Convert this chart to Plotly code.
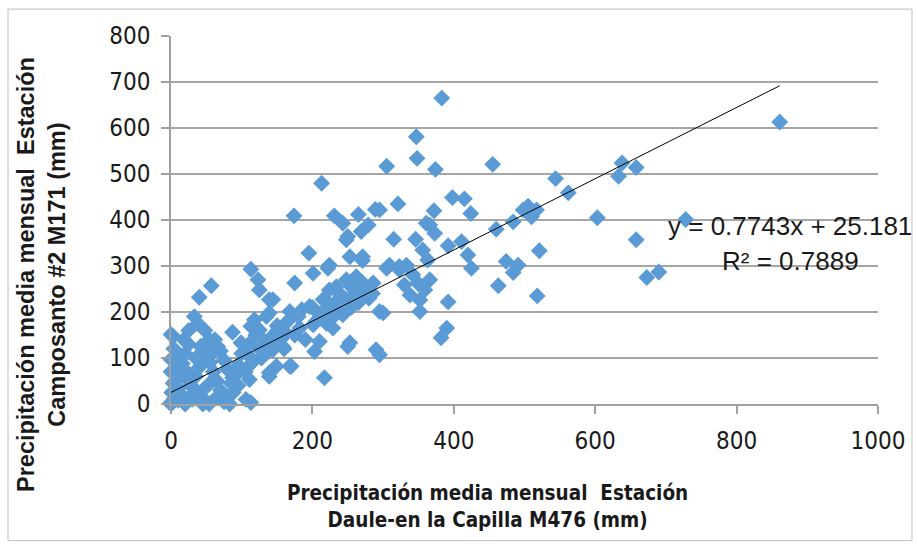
import plotly.graph_objects as go

# Observed pairs (Daule-en la Capilla M476, Camposanto #2 M171), mm
daule_x = [
    383, 347, 348, 305, 374, 455, 544, 562, 638, 633, 658, 603, 658, 673, 690, 728, 861,
    321, 295, 398, 415, 424, 372, 366, 373, 346, 315, 460, 484, 505, 517, 498, 510, 392,
    411, 420, 425, 521, 474, 491, 484, 463, 518, 392, 390, 382, 352, 300, 305, 323, 356, 295,
    333, 342, 349, 359, 366, 338, 352, 363, 330,
    213, 174, 231, 243, 265, 289, 279, 269, 250, 195, 253, 271, 361,
    271, 224, 201, 175, 309, 323, 286, 271, 238, 215, 196, 168, 243, 295, 229, 201, 182,
    163, 253, 210, 290, 248, 248, 262, 255, 234, 224,
    217, 250, 203, 168, 139, 144, 139, 158, 144,
    113, 123, 57, 40, 222, 125, 139, 33, 3, 54, 87, 99, 118, 113, 135, 151, 170, 139, 113,
    83, 54, 69,
    0, 0, 66, 125, 87, 45, 22, 0, 111, 135, 149, 111, 106, 78,
    0, 2, 5, 8, 10, 3, 12, 0, 15, 6, 20, 25, 18, 28, 35, 40, 45, 50, 55, 60, 65, 70, 30,
    40, 50, 20, 10, 35, 42, 48, 58, 62, 70, 75, 80, 85, 90, 95, 100, 105, 110, 120, 115,
    125, 130, 128, 140, 145, 150, 155, 160, 165, 175, 180, 185, 190, 200, 205, 215, 220,
    225, 230, 235, 240, 245, 255, 260, 265, 270, 275, 280, 285, 255, 235, 210,
    12, 22, 32, 45, 55, 65, 75, 88, 95, 8, 16, 4, 25, 38, 1, 6, 14, 30, 18, 26,
]
campo_y = [
    665, 581, 534, 517, 510, 521, 490, 459, 524, 495, 514, 405, 357, 275, 287, 401, 613,
    435, 422, 449, 446, 414, 420, 389, 371, 358, 358, 380, 396, 430, 422, 422, 407, 344,
    353, 324, 295, 333, 310, 302, 286, 257, 235, 222, 165, 144, 201, 198, 295, 299, 335, 107,
    302, 281, 263, 248, 270, 237, 226, 313, 259,
    480, 409, 409, 393, 412, 423, 389, 375, 364, 328, 320, 320, 393,
    312, 302, 284, 263, 302, 292, 263, 241, 241, 227, 212, 201, 194, 201, 165, 172, 165,
    154, 133, 136, 118, 357, 270, 277, 255, 255, 248,
    57, 125, 114, 82, 60, 227, 198, 125, 118,
    293, 270, 257, 232, 295, 248, 227, 190, 147, 140, 156, 133, 183, 169, 190, 161, 82, 68, 3,
    0, 0, 17,
    151, 97, 125, 161, 57, 0, 3, 3, 104, 111, 82, 53, 10, 17,
    0, 5, 12, 20, 35, 45, 60, 70, 80, 95, 110, 130, 140, 40, 60, 80, 100, 120, 90, 70, 50, 30, 20,
    10, 5, 0, 8, 100, 125, 160, 110, 140, 115, 95, 75, 45, 60, 85, 110, 70, 130, 150, 90,
    120, 140, 100, 130, 150, 170, 140, 120, 180, 150, 190, 205, 140, 210, 180, 200, 175,
    215, 190, 225, 200, 230, 230, 245, 220, 265, 250, 230, 240, 210, 205, 195,
    25, 55, 35, 30, 45, 15, 5, 25, 40, 65, 88, 120, 160, 175, 25, 50, 70, 10, 105, 65,
]

# Linear trendline parameters shown on the chart
trend_slope = 0.7743
trend_intercept = 25.181
trend_r2 = 0.7889

x_ticks = [0, 200, 400, 600, 800, 1000]
y_ticks = [0, 100, 200, 300, 400, 500, 600, 700, 800]

x_title = ["Precipitación media mensual  Estación", "Daule-en la Capilla M476 (mm)"]
y_title = ["Precipitación media mensual  Estación", "Camposanto #2 M171 (mm)"]

xmin, xmax = min(daule_x), max(daule_x)
trend_x = [xmin, xmax]
trend_y = [trend_slope * v + trend_intercept for v in trend_x]

fig = go.Figure()
fig.add_trace(go.Scatter(
    x=daule_x, y=campo_y, mode="markers",
    marker=dict(symbol="diamond", size=13, color="#5B9BD5", line=dict(width=0)),
    cliponaxis=False, showlegend=False, hoverinfo="x+y",
))
fig.add_trace(go.Scatter(
    x=trend_x, y=trend_y, mode="lines",
    line=dict(color="black", width=1), showlegend=False, hoverinfo="skip",
))

tick_font = dict(family="Liberation Sans Narrow, DejaVu Sans Condensed, Arial Narrow, sans-serif",
                 size=24, color="#1a1a1a")

fig.update_layout(
    width=918, height=546,
    margin=dict(l=171, r=40, t=36, b=142),
    paper_bgcolor="white", plot_bgcolor="white",
    xaxis=dict(range=[0, 1000], tickvals=x_ticks, showgrid=False, zeroline=False,
               showline=True, linecolor="#A0A0A0", linewidth=1.5,
               ticks="outside", ticklen=8, tickcolor="#A0A0A0", tickwidth=1.5,
               tickfont=tick_font, ticklabelstandoff=6),
    yaxis=dict(range=[0, 800], tickvals=y_ticks, showgrid=True, gridcolor="#A6A6A6",
               gridwidth=1.5, zeroline=False,
               showline=True, linecolor="#A0A0A0", linewidth=1.5,
               ticks="outside", ticklen=8, tickcolor="#A0A0A0", tickwidth=1.5,
               tickfont=tick_font, ticklabelstandoff=6),
    shapes=[dict(type="rect", xref="paper", yref="paper",
                 x0=-163 / 707, x1=(912 - 171) / 707,
                 y0=(404 - 541) / 369, y1=(404 - 8) / 369,
                 line=dict(color="#BFBFBF", width=1), layer="below")],
    annotations=[
        dict(text=f"y = {trend_slope}x + {trend_intercept}", x=790, y=226, xref="paper", yref="paper",
             showarrow=False, font=dict(family="Liberation Sans, Arial, sans-serif", size=26, color="#1a1a1a")),
        dict(text=f"R² = {trend_r2}", x=790, y=261, showarrow=False,
             font=dict(family="Liberation Sans, Arial, sans-serif", size=26, color="#1a1a1a")),
        dict(text="<b>" + x_title[0] + "</b><br><b>" + x_title[1] + "</b>", x=487, y=506,
             showarrow=False, align="center",
             font=dict(family="Liberation Sans Narrow, DejaVu Sans Condensed, sans-serif", size=20.5, color="#1a1a1a")),
        dict(text="<b>" + y_title[0] + "</b><br><b>" + y_title[1] + "</b>", x=41, y=275,
             showarrow=False, align="center", textangle=-90,
             font=dict(family="Liberation Sans, Arial, sans-serif", size=23.5, color="#1a1a1a")),
    ],
)

# convert pixel-positioned annotations to paper coords
W, H = 918, 546
L, R, T, B = 171, 40, 36, 142
pw, ph = W - L - R, H - T - B
for a in fig.layout.annotations:
    a.xref = "paper"
    a.yref = "paper"
    a.x = (a.x - L) / pw
    a.y = (H - B - a.y) / ph
    a.xanchor = "center"
    a.yanchor = "middle"

fig.write_html("out.html")
